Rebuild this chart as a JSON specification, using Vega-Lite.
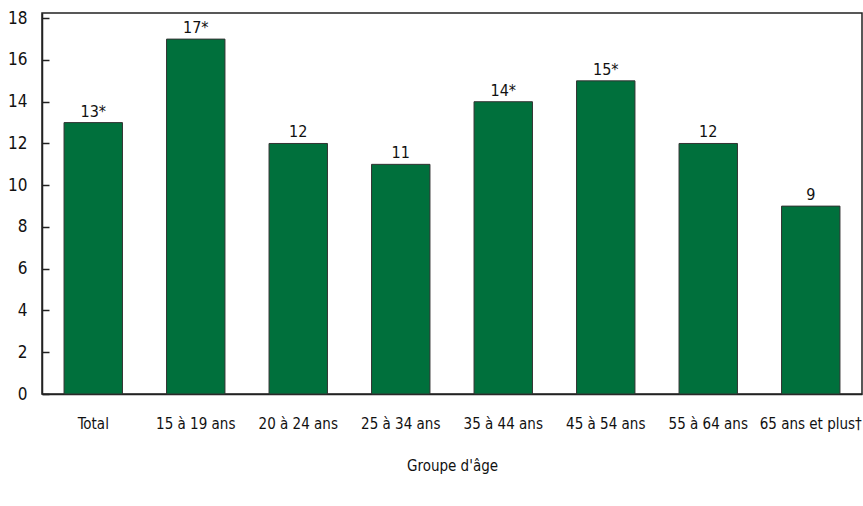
{
  "$schema": "https://vega.github.io/schema/vega-lite/v6.json",
  "width": 820,
  "height": 381,
  "autosize": "none",
  "padding": {"left": 42, "top": 13, "right": 1, "bottom": 112},
  "background": "white",
  "config": {
    "view": {"stroke": "#222", "strokeWidth": 1.5},
    "font": "DejaVu Sans Condensed, Roboto, sans-serif",
    "axis": {"grid": false, "domainColor": "#222", "tickColor": "#222", "labelColor": "#111", "titleColor": "#111", "labelFont": "DejaVu Sans Condensed, Roboto, sans-serif", "titleFont": "DejaVu Sans Condensed, Roboto, sans-serif"}
  },
  "data": {
    "values": [
      {"groupe": "Total", "valeur": 13, "label": "13*"},
      {"groupe": "15 à 19 ans", "valeur": 17, "label": "17*"},
      {"groupe": "20 à 24 ans", "valeur": 12, "label": "12"},
      {"groupe": "25 à 34 ans", "valeur": 11, "label": "11"},
      {"groupe": "35 à 44 ans", "valeur": 14, "label": "14*"},
      {"groupe": "45 à 54 ans", "valeur": 15, "label": "15*"},
      {"groupe": "55 à 64 ans", "valeur": 12, "label": "12"},
      {"groupe": "65 ans et plus†", "valeur": 9, "label": "9"}
    ]
  },
  "encoding": {
    "x": {
      "field": "groupe", "type": "nominal", "sort": null,
      "scale": {"paddingInner": 0.43, "paddingOuter": 0.215},
      "axis": {"title": "Groupe d'âge", "labelAngle": 0, "ticks": false, "labelPadding": 22, "labelFontSize": 15, "titleFontSize": 15, "titleFontWeight": "normal", "titlePadding": 27, "domainWidth": 1.5}
    },
    "y": {
      "field": "valeur", "type": "quantitative",
      "scale": {"domain": [0, 18.25], "nice": false},
      "axis": {"title": null, "values": [0, 2, 4, 6, 8, 10, 12, 14, 16, 18], "tickSize": -7, "labelPadding": 22, "labelFontSize": 17, "domainWidth": 1.5, "tickWidth": 1.5}
    }
  },
  "layer": [
    {"mark": {"type": "bar", "color": "#00703C", "stroke": "#333", "strokeWidth": 1}},
    {"mark": {"type": "text", "baseline": "bottom", "dy": -3, "fontSize": 16, "color": "#111"},
     "encoding": {"text": {"field": "label"}}}
  ]
}
